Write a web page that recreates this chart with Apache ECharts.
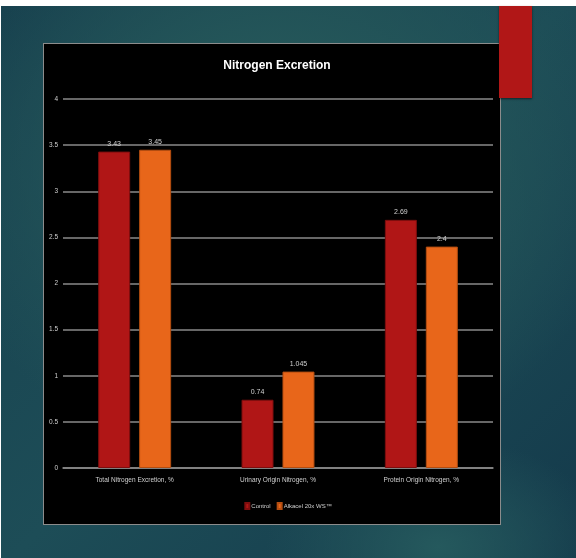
<!DOCTYPE html>
<html><head><meta charset="utf-8">
<script src="https://cdn.jsdelivr.net/npm/echarts@6/dist/echarts.min.js"></script>
<style>
html,body{margin:0;padding:0;background:#fff;}
#wrap{position:relative;width:576px;height:558px;overflow:hidden;background:#fff;}
#bg{position:absolute;left:1px;top:6px;width:575px;height:552px;
 background:radial-gradient(ellipse 60% 55% at 48% 30%, #2d6363 0%, #245659 40%, rgba(30,75,85,0) 100%),
 radial-gradient(ellipse 30% 20% at 76% 98%, #25595d 0%, rgba(30,75,85,0) 100%),
 linear-gradient(135deg,#17404e 0%, #1d4d57 50%, #143a4b 100%);}
#panel{position:absolute;left:43px;top:43px;width:456px;height:480px;background:#000;border:1.5px solid #8c8c8c;}
#red{position:absolute;left:499px;top:6px;width:33px;height:92px;background:#b11717;box-shadow:0 1px 2px rgba(0,0,0,0.55);}
#chart{position:absolute;left:0;top:0;width:576px;height:558px;}
</style></head>
<body><div id="wrap"><div id="bg"></div><div id="panel"></div><div id="red"></div><div id="chart"></div></div>
<script>
const categories = ['Total Nitrogen Excretion, %', 'Urinary Origin Nitrogen, %', 'Protein Origin Nitrogen, %'];
const controlValues = [3.43, 0.74, 2.69];
const alkacelValues = [3.45, 1.045, 2.4];
const seriesNames = ['Control', 'Alkacel 20x WS™'];
const yTicks = [0, 0.5, 1, 1.5, 2, 2.5, 3, 3.5, 4];
const titleText = 'Nitrogen Excretion';

const FONT = '"Liberation Sans", Arial, sans-serif';
const chart = echarts.init(document.getElementById('chart'), null, {renderer: 'canvas'});
const lbl = {show: true, position: 'top', distance: 4, color: '#d0d0d0', fontSize: 7, fontFamily: FONT};
chart.setOption({
  backgroundColor: 'transparent',
  animation: false,
  title: {text: titleText, left: 272, textAlign: 'center', top: 55,
    textStyle: {color: '#ffffff', fontSize: 12, fontWeight: 'bold', fontFamily: FONT}},
  legend: {bottom: 43, left: 'center', itemWidth: 4, itemHeight: 6, itemGap: 6,
    icon: 'rect', textStyle: {color: '#d0d0d0', fontSize: 6, fontFamily: FONT, padding: [0,0,0,-3]},
    data: seriesNames},
  grid: {left: 63, right: 83, top: 99, bottom: 90},
  xAxis: {type: 'category', data: categories,
    axisLine: {lineStyle: {color: '#8a8a8a', width: 1.5}}, axisTick: {show: false},
    axisLabel: {color: '#d0d0d0', fontSize: 6.5, fontFamily: FONT, margin: 9}},
  yAxis: {type: 'value', min: yTicks[0], max: yTicks[yTicks.length-1], interval: 0.5,
    axisLine: {show: false}, axisTick: {show: false},
    axisLabel: {color: '#d0d0d0', fontSize: 6.5, fontFamily: FONT, margin: 5,
      formatter: v => yTicks.includes(v) ? String(v) : ''},
    splitLine: {lineStyle: {color: '#8a8a8a', width: 1.5}}},
  series: [
    {name: seriesNames[0], type: 'bar', data: controlValues, barWidth: 32, barGap: '28%',
     itemStyle: {color: '#b01616', borderColor: '#7e0e0e', borderWidth: 1}, label: lbl},
    {name: seriesNames[1], type: 'bar', data: alkacelValues, barWidth: 32,
     itemStyle: {color: '#e8661a', borderColor: '#b44d10', borderWidth: 1}, label: lbl}
  ]
});
</script></body></html>
